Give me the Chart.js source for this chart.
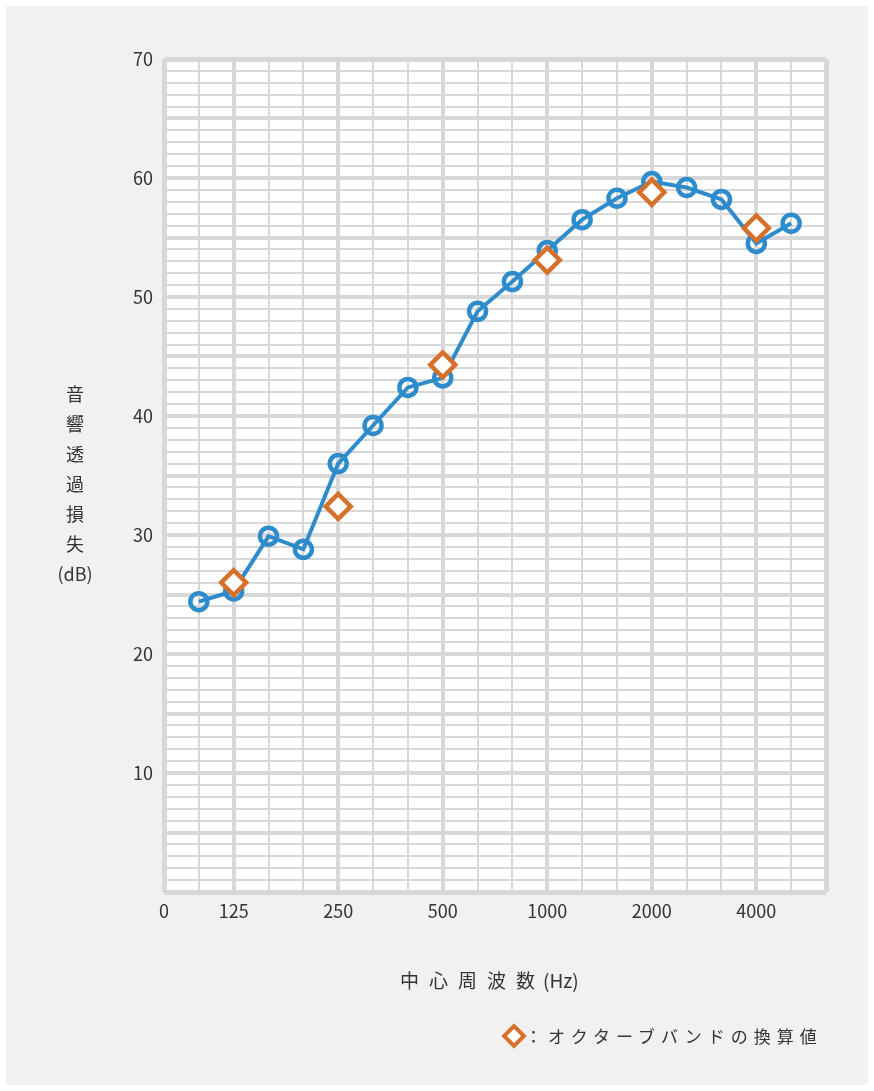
<!DOCTYPE html>
<html lang="ja">
<head>
<meta charset="utf-8">
<title>音響透過損失</title>
<script src="https://cdn.jsdelivr.net/npm/chart.js@4.4.1/dist/chart.umd.min.js"></script>
<style>
  html, body { margin: 0; padding: 0; background: #ffffff; }
  body { width: 874px; height: 1091px; position: relative; overflow: hidden;
         font-family: "Noto Sans CJK JP", "Noto Sans", sans-serif; color: #333; }
  #bg { position: absolute; left: 6px; top: 6px; width: 862px; height: 1079px; background: #f1f1f1; }
  #c { position: absolute; left: 0; top: 0; }
  .ytitle { position: absolute; left: 45px; top: 378px; width: 60px; text-align: center;
            font-size: 18px; line-height: 30px; }
  .xtitle { position: absolute; left: 400px; top: 967px; font-size: 19px; line-height: 26px; white-space: nowrap; }
  .legend { position: absolute; left: 503px; top: 1023px; height: 26px; white-space: nowrap; }
  .legend .mark { position: absolute; left: 2px; top: 4px; width: 18px; height: 18px; box-sizing: border-box;
                  border: 4px solid #d6712b; background: #fff; transform: rotate(45deg); }
  .legend .txt { position: absolute; left: 22px; top: 0; font-size: 17px; line-height: 26px; letter-spacing: 6px; }
</style>
</head>
<body>
<div id="bg"></div>
<canvas id="c" width="874" height="1091"></canvas>
<div class="ytitle">音<br>響<br>透<br>過<br>損<br>失<br>(dB)</div>
<div class="xtitle"><span style="letter-spacing:10px">中心周波</span>数<span style="margin-left:8px">(Hz)</span></div>
<div class="legend"><div class="mark"></div><div class="txt">：オクターブバンドの換算値</div></div>
<script>
// ==========================================
// DATA (1/3オクターブ帯域)
// ==========================================
const bands = ['100', '125', '160', '200', '250', '315', '400', '500', '630',
               '800', '1000', '1250', '1600', '2000', '2500', '3150', '4000', '5000'];
const measured = [24.4, 25.3, 29.9, 28.8, 36.0, 39.2, 42.4, 43.2, 48.8,
                  51.3, 53.9, 56.5, 58.3, 59.7, 59.2, 58.2, 54.5, 56.2];

const octaveBands = ['125', '250', '500', '1000', '2000', '4000'];
const octaveValues = [26.0, 32.4, 44.3, 53.1, 58.8, 55.8];

const xTickLabels = ['0', '125', '250', '500', '1000', '2000', '4000'];
const yTickLabels = [10, 20, 30, 40, 50, 60, 70];

// index 0 = left edge, 1..18 = bands, 19 = right edge
const xMax = bands.length + 1;
const posOf = f => (f === '0' ? 0 : bands.indexOf(f) + 1);
const xLabelAt = {};
xTickLabels.forEach(l => { xLabelAt[posOf(l)] = l; });
const thickX = octaveBands.map(posOf);

const GRID = '#d8d8d8';
const BLUE = '#2e8bcc';
const ORANGE = '#d6712b';

// white plot background
const plotBg = {
    id: 'plotBg',
    beforeDraw(chart) {
        const { ctx, chartArea: a } = chart;
        ctx.save();
        ctx.fillStyle = '#ffffff';
        ctx.fillRect(a.left, a.top, a.right - a.left, a.bottom - a.top);
        ctx.restore();
    }
};

new Chart(document.getElementById('c'), {
    type: 'line',
    data: {
        datasets: [
            {
                label: 'オクターブバンドの換算値',
                data: octaveBands.map((f, i) => ({ x: posOf(f), y: octaveValues[i] })),
                showLine: false,
                pointStyle: 'rectRot',
                pointRadius: 12.5,
                pointBorderWidth: 4.5,
                pointBorderColor: ORANGE,
                pointBackgroundColor: '#ffffff'
            },
            {
                label: '1/3オクターブバンド',
                data: measured.map((v, i) => ({ x: i + 1, y: v })),
                borderColor: BLUE,
                borderWidth: 4,
                tension: 0,
                pointStyle: 'circle',
                pointRadius: 8.5,
                pointBorderWidth: 4.5,
                pointBorderColor: BLUE,
                pointBackgroundColor: 'rgba(0,0,0,0)'
            }
        ]
    },
    options: {
        responsive: false,
        devicePixelRatio: 1,
        animation: false,
        layout: { padding: { left: 100, right: 48, top: 59, bottom: 159 } },
        plugins: { legend: { display: false }, tooltip: { enabled: false } },
        scales: {
            x: {
                type: 'linear', min: 0, max: xMax,
                afterFit: s => { s.height = 40; },
                border: { display: false },
                grid: {
                    drawTicks: false,
                    color: GRID,
                    lineWidth: ctx => {
                        const v = ctx.tick ? ctx.tick.value : 0;
                        if (v === 0 || v === xMax) return 5;
                        return thickX.includes(v) ? 4 : 2;
                    }
                },
                ticks: {
                    stepSize: 1, autoSkip: false, maxRotation: 0, padding: 8,
                    color: '#333', font: { family: '"Noto Sans CJK JP"', size: 18 },
                    callback: v => xLabelAt[v] || ''
                }
            },
            y: {
                min: 0, max: 70,
                afterFit: s => { s.width = 64; },
                border: { display: false },
                grid: {
                    drawTicks: false,
                    color: GRID,
                    lineWidth: ctx => {
                        const v = ctx.tick ? ctx.tick.value : 0;
                        if (v === 0 || v === 70) return 5;
                        return v % 5 === 0 ? 4 : 2;
                    }
                },
                ticks: {
                    stepSize: 1, autoSkip: false, padding: 11,
                    color: '#333', font: { family: '"Noto Sans CJK JP"', size: 18 },
                    callback: v => (yTickLabels.includes(v) ? String(v) : '')
                }
            }
        }
    },
    plugins: [plotBg]
});
</script>
</body>
</html>
